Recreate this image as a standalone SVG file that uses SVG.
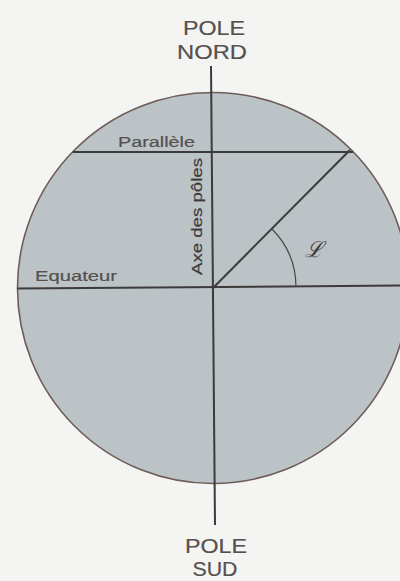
<svg xmlns="http://www.w3.org/2000/svg" width="400" height="581" viewBox="0 0 400 581">
<style>
.lbl{font-family:"Liberation Sans",Arial,sans-serif;fill:#55504e;stroke:#55504e;stroke-width:0.2}
.big{font-size:21px;text-anchor:middle}
.sm{font-size:15.5px}
.ln{stroke:#3c3a3a;stroke-width:2;fill:none}
</style>
<rect width="400" height="581" fill="#f4f4f3"/>
<g id="globe">
<circle cx="213" cy="288" r="195.5" fill="#bcc3c6" stroke="#6e5c58" stroke-width="1.6"/>
</g>
<g id="connectors">
<line class="ln" x1="211" y1="66" x2="215" y2="525"/>
<line class="ln" x1="17" y1="288.5" x2="400" y2="285.5"/>
<line class="ln" x1="73" y1="152" x2="353" y2="152" stroke-width="1.5"/>
<line class="ln" x1="213" y1="288" x2="350" y2="150"/>
<path d="M296 287 A83 83 0 0 0 272 229" stroke="#4a4646" stroke-width="1.2" fill="none"/>
</g>
<g id="pole-nord">
<text class="lbl big" x="214" y="35" textLength="62" lengthAdjust="spacingAndGlyphs">POLE</text>
<text class="lbl big" x="212" y="59" textLength="70" lengthAdjust="spacingAndGlyphs">NORD</text>
</g>
<g id="pole-sud">
<text class="lbl big" x="216" y="553" textLength="62" lengthAdjust="spacingAndGlyphs">POLE</text>
<text class="lbl big" x="215" y="576" textLength="45" lengthAdjust="spacingAndGlyphs">SUD</text>
</g>
<g id="parallele">
<text class="lbl sm" x="118" y="147" textLength="77" lengthAdjust="spacingAndGlyphs">Parallèle</text>
</g>
<g id="equateur">
<text class="lbl sm" x="35" y="281" textLength="82" lengthAdjust="spacingAndGlyphs">Equateur</text>
</g>
<g id="axe">
<text class="lbl sm" transform="translate(202,275) rotate(-90)" x="0" y="0" textLength="117" lengthAdjust="spacingAndGlyphs" style="fill:#3e3a3a;stroke:#3e3a3a">Axe des pôles</text>
</g>
<g id="latitude">
<text x="314" y="257" font-family="DejaVu Serif,serif" font-style="italic" font-size="22" text-anchor="middle" fill="#3e3a3a">ℒ</text>
</g>
</svg>
